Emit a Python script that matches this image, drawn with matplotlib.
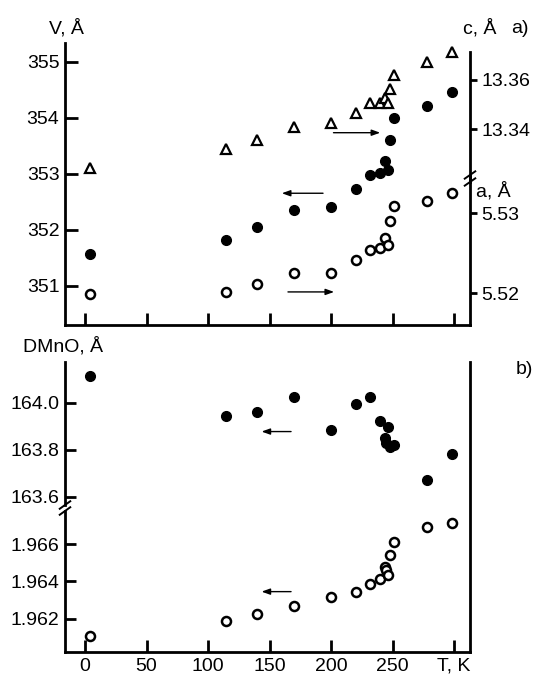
import matplotlib
matplotlib.use("Agg")
import matplotlib.pyplot as plt
from matplotlib.lines import Line2D

plt.rcParams['font.family'] = ['Liberation Sans', 'DejaVu Sans']

# ---------------- data ----------------
T = [4, 115, 140, 170, 200, 220, 232, 240, 244, 246, 248, 251, 278, 298]
V = [351.56, 351.82, 352.04, 352.35, 352.41, 352.72, 352.98, 353.02,
     353.23, 353.07, 353.60, 353.99, 354.20, 354.45]
c_par = [13.3244, 13.3320, 13.3357, 13.3409, 13.3427, 13.3467, 13.3505,
         13.3505, 13.3526, 13.3505, 13.3562, 13.3620, 13.3672, 13.3712]
a_par = [5.51988, 5.52016, 5.52116, 5.52258, 5.52258, 5.52416, 5.52541,
         5.52563, 5.52688, 5.52604, 5.52908, 5.53095, 5.53150, 5.53250]

T_b = [4, 115, 140, 170, 200, 220, 232, 240, 244, 245, 246, 248, 251, 278, 298]
D_upper = [164.114, 163.943, 163.962, 164.023, 163.884, 163.993, 164.023,
           163.923, 163.849, 163.827, 163.895, 163.813, 163.821, 163.671, 163.782]
d_lower = [1.96107, 1.96188, 1.96225, 1.96268, 1.96318, 1.96345, 1.96384,
           1.96413, 1.96476, 1.96461, 1.96434, 1.96541, 1.96613, 1.96692, 1.96711]

x_ticks = [0, 50, 100, 150, 200, 250, 300]
x_labels = ['0', '50', '100', '150', '200', '250', 'T, K']
V_ticks = [351, 352, 353, 354, 355]
c_ticks = [13.34, 13.36]
a_ticks = [5.52, 5.53]
D_ticks = [163.6, 163.8, 164.0]
d_ticks = [1.962, 1.964, 1.966]

# ---------------- figure ----------------
W, H = 536, 677
fig = plt.figure(figsize=(W / 100, H / 100), dpi=100)
FS = 14
LW = 2.0

def frac(x0, y0, x1, y1):
    return [x0 / W, 1 - y1 / H, (x1 - x0) / W, (y1 - y0) / H]

xlim = (-16.3, 313.0)

# ---------- top panel ----------
axV = fig.add_axes(frac(65, 43, 470, 325))
axc = axV.twinx()
axa = axV.twinx()
for ax in (axV, axc, axa):
    ax.set_xlim(*xlim)
    ax.patch.set_visible(False)
    for s in ax.spines.values():
        s.set_visible(False)
axV.set_ylim(350.30, 355.33)
axc.set_ylim(13.2606, 13.375)
axa.set_ylim(5.51604, 5.55129)

axV.spines['left'].set_visible(True)
axV.spines['bottom'].set_visible(True)
axV.spines['left'].set_linewidth(LW)
axV.spines['bottom'].set_linewidth(LW)
axV.set_xticks(x_ticks)
axV.set_xticklabels([])
axV.set_yticks(V_ticks)
axV.set_yticklabels([str(v) for v in V_ticks])
axV.tick_params(axis='both', direction='in', length=9, width=LW, labelsize=FS)
axV.tick_params(axis='y', pad=4)

for ax, lo, hi, ticks, fmt in ((axc, 13.3186, 13.3714, c_ticks, '{:.2f}'),
                               (axa, 5.51604, 5.53466, a_ticks, '{:.2f}')):
    ax.spines['right'].set_visible(True)
    ax.spines['right'].set_linewidth(LW)
    ax.spines['right'].set_bounds(lo, hi)
    ax.set_yticks(ticks)
    ax.set_yticklabels([fmt.format(t) for t in ticks])
    ax.tick_params(axis='y', direction='out', length=5, width=LW, labelsize=FS, pad=3)
    ax.tick_params(axis='x', length=0, labelbottom=False)

axV.plot(T, V, 'o', color='black', markersize=7, zorder=3)
axc.plot(T, c_par, '^', markerfacecolor='white', markeredgecolor='black',
         markeredgewidth=1.6, markersize=7, zorder=3)
axa.plot(T, a_par, 'o', markerfacecolor='white', markeredgecolor='black',
         markeredgewidth=1.8, markersize=6.5, zorder=3)

arrow = dict(arrowstyle='-|>,head_length=0.5,head_width=0.18', color='black', lw=1.0,
             shrinkA=0, shrinkB=0)
axV.annotate('', xy=(240, 353.73), xytext=(202, 353.73), arrowprops=arrow)
axV.annotate('', xy=(160, 352.65), xytext=(193.5, 352.65), arrowprops=arrow)
axV.annotate('', xy=(202.5, 350.89), xytext=(165, 350.89), arrowprops=arrow)

# break marks on spines (axes coords)
def brk(ax, xa, ya_list):
    for ya in ya_list:
        ax.add_line(Line2D([xa - 0.013, xa + 0.013], [ya - 0.013, ya + 0.013],
                           transform=ax.transAxes, color='black', lw=1.4,
                           clip_on=False))

brk(axV, 1.0, [(325 - 182) / 282, (325 - 175) / 282])

# labels
fig.text(66 / W, 1 - 33 / H, 'V, Å', fontsize=FS, ha='center', va='baseline')
fig.text(480 / W, 1 - 33 / H, 'c, Å', fontsize=FS, ha='center', va='baseline')
fig.text(520 / W, 1 - 33 / H, 'a)', fontsize=FS, ha='center', va='baseline')
fig.text(476 / W, 1 - 196 / H, 'a, Å', fontsize=FS, ha='left', va='baseline')

# ---------- bottom panel ----------
axL = fig.add_axes(frac(65, 362, 470, 652))
axU = axL.twinx()
for ax in (axL, axU):
    ax.set_xlim(*xlim)
    ax.patch.set_visible(False)
    for s in ax.spines.values():
        s.set_visible(False)
axL.set_ylim(1.960215, 1.975755)
axU.set_ylim(162.939, 164.173)

axL.spines['bottom'].set_visible(True)
axL.spines['bottom'].set_linewidth(LW)
axL.spines['left'].set_visible(True)
axL.spines['left'].set_linewidth(LW)
axL.spines['left'].set_bounds(1.960215, 1.96777)
axL.spines['right'].set_visible(True)
axL.spines['right'].set_linewidth(LW)
axL.set_xticks(x_ticks)
axL.set_xticklabels(x_labels)
axL.set_yticks(d_ticks)
axL.set_yticklabels(['{:.3f}'.format(t) for t in d_ticks])
axL.tick_params(axis='both', direction='in', length=8, width=LW, labelsize=FS)
axL.tick_params(axis='x', pad=4, length=9)
axL.tick_params(axis='y', pad=4, right=False)

axU.spines['left'].set_visible(True)
axU.spines['left'].set_linewidth(LW)
axU.spines['left'].set_bounds(163.5647, 164.173)
axU.yaxis.set_ticks_position('left')
axU.yaxis.set_label_position('left')
axU.set_yticks(D_ticks)
axU.set_yticklabels(['{:.1f}'.format(t) for t in D_ticks])
axU.tick_params(axis='y', direction='in', length=8, width=LW, labelsize=FS, pad=4,
                left=True, labelleft=True, right=False, labelright=False)
axU.tick_params(axis='x', length=0, labelbottom=False)

axU.plot(T_b, D_upper, 'o', color='black', markersize=7, zorder=3)
axL.plot(T_b, d_lower, 'o', markerfacecolor='white', markeredgecolor='black',
         markeredgewidth=1.8, markersize=6.5, zorder=3)

axU.annotate('', xy=(143.5, 163.877), xytext=(167.5, 163.877), arrowprops=arrow)
axL.annotate('', xy=(143.5, 1.96345), xytext=(167.5, 1.96345), arrowprops=arrow)

brk(axL, 0.0, [(652 - 511) / 290, (652 - 505) / 290])

fig.text(63 / W, 1 - 352 / H, 'DMnO, Å', fontsize=FS, ha='center', va='baseline')
fig.text(524 / W, 1 - 374 / H, 'b)', fontsize=FS, ha='center', va='baseline')

fig.savefig('out.png', dpi=100)
